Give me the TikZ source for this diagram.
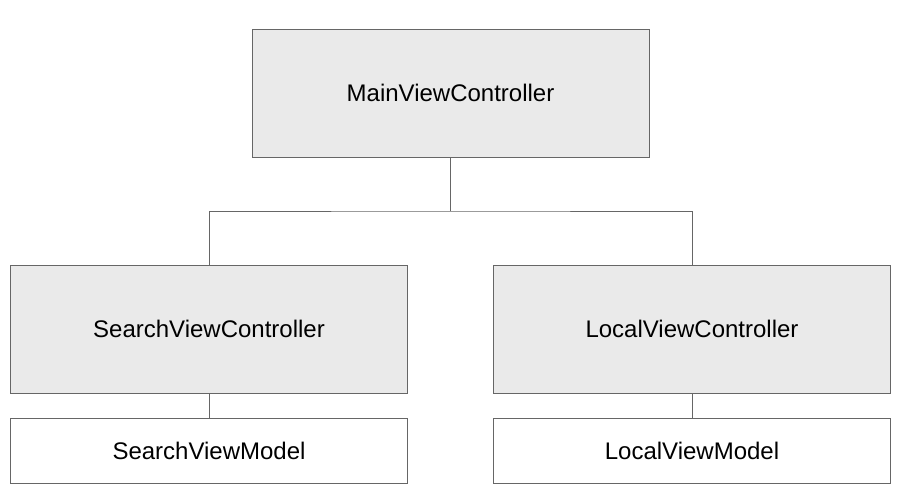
\documentclass[tikz,border=0pt]{standalone}
\usepackage{fontspec}
\setmainfont{Liberation Sans}
\definecolor{boxgray}{HTML}{EAEAEA}
\definecolor{linegray}{HTML}{666666}
\tikzset{
  ctrl/.style={draw=linegray, line width=1pt, fill=boxgray, inner sep=0pt,
    minimum width=397pt, minimum height=128pt, font=\fontsize{24pt}{28pt}\selectfont},
  vmodel/.style={ctrl, fill=white, minimum height=65pt},
  link/.style={draw=linegray, line width=1pt}
}
\begin{document}
\begin{tikzpicture}[x=1pt,y=-1pt]
    \useasboundingbox (0,0) rectangle (904,496);
    \node[ctrl] (main) at (450.5,93) {MainViewController};
    \node[ctrl] (search) at (209,329) {SearchViewController};
    \node[ctrl] (local) at (692,329) {LocalViewController};
    \node[vmodel] (searchvm) at (209,450.5) {SearchViewModel};
    \node[vmodel] (localvm) at (692,450.5) {LocalViewModel};
    \coordinate (split) at (450.5,211);
    \draw[link] (main.south) -- (split);
    \draw[link] (search.north) |- (split) -| (local.north);
    \draw[link] (search.south) -- (searchvm.north);
    \draw[link] (local.south) -- (localvm.north);
  \end{tikzpicture}
\end{document}
